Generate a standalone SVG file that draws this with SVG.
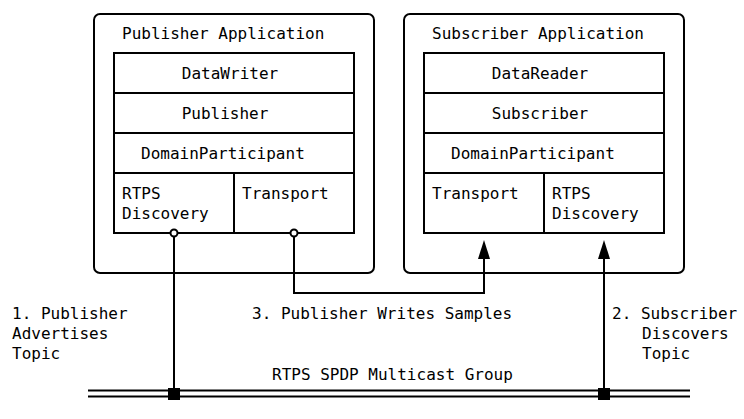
<svg xmlns="http://www.w3.org/2000/svg" width="744" height="419" viewBox="0 0 744 419">
<defs>
<marker id="arr" viewBox="0 0 19 12" refX="15" refY="6" markerWidth="19" markerHeight="12" markerUnits="userSpaceOnUse" orient="auto">
<path d="M0 0 L19 6 L0 12 Z" fill="#000"/>
</marker>
<style>
text{font-family:"DejaVu Sans Mono","Liberation Mono",monospace;font-size:16px;fill:#000}
.box{fill:#fff;stroke:#000;stroke-width:2}
.cell{fill:none;stroke:#000;stroke-width:2}
.ln{fill:none;stroke:#000;stroke-width:2}
.c{text-anchor:middle}
</style>
</defs>
<rect width="744" height="419" fill="#fff"/>
<g id="publisher-app">
<rect class="box" x="94" y="14" width="280" height="259" rx="6"/>
<text x="122" y="39">Publisher Application</text>
<rect class="cell" x="114" y="53" width="240" height="180"/>
<line class="cell" x1="114" y1="93" x2="354" y2="93"/>
<line class="cell" x1="114" y1="133" x2="354" y2="133"/>
<line class="cell" x1="114" y1="173" x2="354" y2="173"/>
<line class="cell" x1="234" y1="173" x2="234" y2="233"/>
<text x="230" y="79" class="c">DataWriter</text>
<text x="225" y="119" class="c">Publisher</text>
<text x="141" y="159">DomainParticipant</text>
<text x="122" y="199">RTPS</text>
<text x="122" y="219">Discovery</text>
<text x="242" y="199">Transport</text>
</g>
<g id="subscriber-app">
<rect class="box" x="404" y="14" width="280" height="259" rx="6"/>
<text x="432" y="39">Subscriber Application</text>
<rect class="cell" x="424" y="53" width="240" height="180"/>
<line class="cell" x1="424" y1="93" x2="664" y2="93"/>
<line class="cell" x1="424" y1="133" x2="664" y2="133"/>
<line class="cell" x1="424" y1="173" x2="664" y2="173"/>
<line class="cell" x1="544" y1="173" x2="544" y2="233"/>
<text x="540" y="79" class="c">DataReader</text>
<text x="540" y="119" class="c">Subscriber</text>
<text x="451" y="159">DomainParticipant</text>
<text x="432" y="199">Transport</text>
<text x="552" y="199">RTPS</text>
<text x="552" y="219">Discovery</text>
</g>
<g id="bus">
<line x1="88" y1="390.5" x2="690" y2="390.5" stroke="#000" stroke-width="2"/>
<line x1="88" y1="396.5" x2="690" y2="396.5" stroke="#000" stroke-width="2"/>
<text x="272" y="380">RTPS SPDP Multicast Group</text>
</g>
<g id="connectors">
<line class="ln" x1="174" y1="236" x2="174" y2="394"/>
<path class="ln" d="M294 236 V293 H484 V244" marker-end="url(#arr)"/>
<line class="ln" x1="604" y1="394" x2="604" y2="244" marker-end="url(#arr)"/>
<circle cx="174" cy="233" r="3.5" fill="#fff" stroke="#000" stroke-width="2"/>
<circle cx="294" cy="233" r="3.5" fill="#fff" stroke="#000" stroke-width="2"/>
<rect x="168" y="388" width="12" height="12" fill="#000"/>
<rect x="598" y="388" width="12" height="12" fill="#000"/>
</g>
<g id="labels">
<text x="12" y="319">1. Publisher</text>
<text x="12" y="339">Advertises</text>
<text x="12" y="359">Topic</text>
<text x="252" y="319">3. Publisher Writes Samples</text>
<text x="612" y="319">2. Subscriber</text>
<text x="642" y="339">Discovers</text>
<text x="642" y="359">Topic</text>
</g>
</svg>
